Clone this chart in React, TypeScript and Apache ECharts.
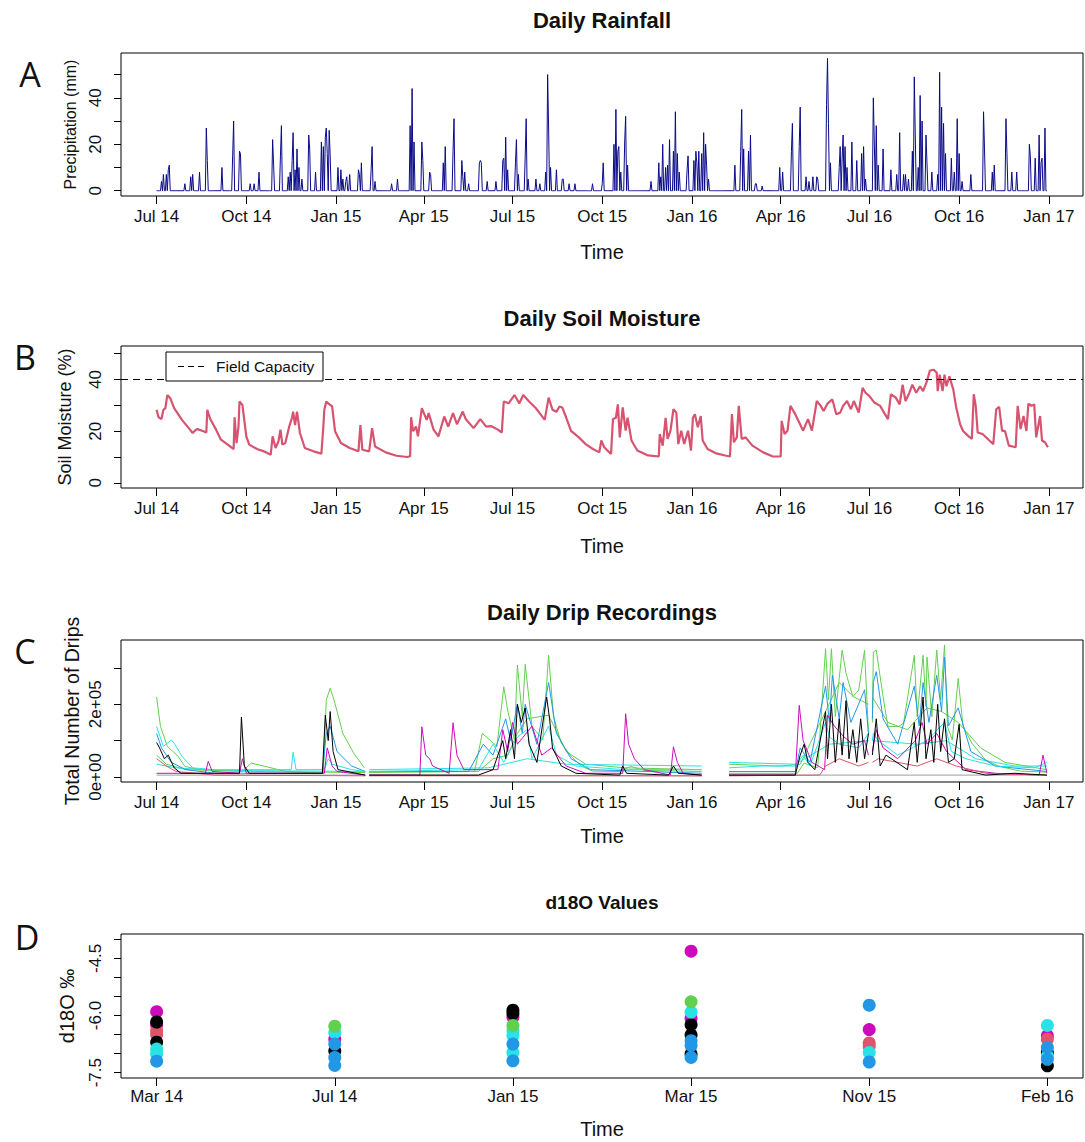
import React, { useEffect, useRef } from "react";
import * as echarts from "echarts";

const FONT = '"Liberation Sans", Arial, sans-serif';
const LETTER_FONT = '"Open Sans", "Noto Sans", sans-serif';

// ---------- time axis (days since 1 Jul 2014) ----------
const X_MIN = -36.5;
const X_MAX = 950;
const LAST_DAY = 913;
const TIME_TICK_DAYS = [0, 92, 184, 274, 365, 457, 549, 640, 731, 823, 915];
const TIME_TICK_LABELS = ["Jul 14", "Oct 14", "Jan 15", "Apr 15", "Jul 15", "Oct 15", "Jan 16", "Apr 16", "Jul 16", "Oct 16", "Jan 17"];

// ---------- A: daily rainfall (rain days only, mm) ----------
const RAIN_EVENTS: [number, number][] = [
  [5, 4], [7, 7], [10, 7], [12, 9], [13, 11], [29, 3], [35, 6], [37, 7], [44, 8], [51, 27], [52, 13], [67, 10],
  [78, 15], [79, 30], [85, 17], [86, 16], [96, 3], [100, 3], [105, 8], [119, 22], [120, 11], [127, 15], [128, 28],
  [135, 6], [137, 8], [139, 13], [140, 25], [142, 9], [144, 18], [146, 10], [149, 5], [156, 24], [157, 18], [163, 8],
  [169, 21], [171, 19], [173, 23], [174, 27], [175, 16], [177, 26], [178, 15], [186, 10], [189, 9], [191, 5], [194, 4],
  [195, 6], [198, 7], [207, 9], [208, 7], [210, 12], [220, 9], [221, 19], [224, 4], [241, 3], [247, 5], [260, 28],
  [262, 44], [264, 21], [272, 21], [273, 13], [280, 8], [281, 7],
  [294, 12], [296, 19], [304, 17], [305, 31], [313, 13], [314, 6], [316, 8], [320, 3], [331, 12], [332, 13], [333, 12],
  [339, 4], [348, 4], [355, 13], [356, 14], [358, 23], [360, 9], [368, 12], [369, 22], [371, 7], [378, 15], [379, 31],
  [381, 5], [389, 5], [393, 3], [399, 8], [401, 50], [402, 27], [404, 10], [410, 9], [416, 5], [417, 5], [423, 3],
  [429, 3], [447, 3], [457, 3], [458, 12], [469, 20], [471, 35], [473, 17], [474, 19], [476, 8], [480, 21], [481, 32],
  [483, 11], [507, 4], [515, 12], [517, 6], [519, 20], [522, 10], [524, 11], [526, 22], [530, 17], [532, 34], [534, 16],
  [536, 8], [544, 9], [545, 15], [551, 13], [553, 17], [554, 12], [556, 17], [559, 16], [561, 25], [563, 20], [564, 11],
  [566, 5], [593, 11], [599, 17], [600, 35], [602, 18], [607, 17], [609, 24], [614, 3],
  [615, 3], [621, 2], [639, 10], [642, 8], [651, 17], [652, 29], [659, 19], [660, 36], [666, 6], [669, 4], [673, 6],
  [677, 6], [678, 5], [687, 37], [688, 57], [689, 29], [691, 12], [700, 10], [701, 19], [703, 14], [704, 24], [706, 19],
  [708, 10], [713, 21], [718, 13], [723, 16], [725, 19], [727, 5], [735, 40], [736, 21], [738, 28], [740, 11], [745, 18],
  [753, 9], [759, 7], [762, 25], [766, 7], [768, 7], [771, 5], [775, 17], [777, 49], [778, 24], [781, 10], [783, 41],
  [785, 30], [789, 24], [790, 12], [795, 8], [801, 7], [803, 51], [805, 36], [807, 29], [809, 16], [815, 14], [818, 8],
  [821, 31], [823, 16], [826, 4], [835, 7], [848, 34], [849, 18], [857, 8], [859, 11], [871, 31], [872, 16], [877, 8],
  [882, 8], [895, 20], [896, 15], [901, 14], [905, 24], [907, 12], [908, 14], [911, 27],
];

// ---------- B: daily soil moisture (%) ----------
const SOIL: [number, number][] = [
  [0, 28.3], [2, 25.4], [5, 24.7], [7, 28.3], [9, 28.9], [11, 34], [14, 32.8], [18, 28.9], [26, 24.4], [33, 21.2],
  [37, 19.3], [40, 20.5], [42, 20.8], [48, 20], [51, 19.5], [52, 28.3], [55, 24.7], [61, 20.6], [66, 16.7], [73, 14.8],
  [79, 13.1], [80, 25.4], [82, 15.4], [84, 21.8], [85, 31.5], [88, 30.2], [92, 18], [95, 14.8], [103, 13.1], [110, 12.2],
  [117, 10.9], [119, 18], [122, 13.5], [125, 16.1], [127, 20.6], [129, 14.8], [132, 15.4], [136, 21.8], [139, 25.4],
  [140, 27.6], [142, 22.4], [144, 27.6], [147, 19.3], [152, 13.5], [161, 12.2], [169, 11.3], [171, 21.8], [172, 28.3],
  [174, 31.5], [176, 30.8], [180, 29.6], [183, 20], [189, 15.4], [198, 13.5], [207, 12.2], [209, 22.4], [211, 12.8],
  [218, 12.2], [221, 21.2], [224, 14.1], [235, 11.8], [246, 10.5], [257, 10], [260, 10.3], [261, 25.4], [263, 20],
  [266, 21.8], [268, 18], [272, 28.9], [277, 24.4], [279, 27], [284, 20.6], [289, 18], [295, 25.7], [299, 21.8],
  [304, 27], [308, 22.7], [314, 27.6], [317, 24.7], [325, 21.2], [332, 24.7], [338, 21.8], [343, 22], [350, 20.6],
  [354, 19.5], [356, 31.5], [361, 30.8], [367, 34], [372, 30.8], [376, 34], [382, 31.5], [389, 28.9], [394, 26.4],
  [398, 24.4], [402, 33], [406, 28.3], [410, 27.5], [413, 29.5], [416, 29.2], [420, 25.3], [425, 20.1], [433, 17.6],
  [440, 15], [447, 13.2], [454, 11.8], [456, 16.4], [459, 13.8], [466, 11.2], [468, 24.7], [471, 25.2], [473, 30.4],
  [475, 17.6], [478, 29.2], [481, 20.2], [483, 25.2], [487, 16.4], [493, 12.5], [504, 10.6], [515, 10.2], [516, 18.9],
  [519, 14.4], [522, 25.2], [524, 17], [527, 20.2], [530, 28.5], [533, 27.2], [535, 15], [538, 20.2], [541, 15],
  [545, 20.2], [548, 12.5], [550, 25.2], [552, 26.6], [555, 21.5], [558, 25.9], [560, 16.4], [565, 13.1], [574, 11.4],
  [583, 10.6], [588, 10.2], [590, 26.6], [592, 15.7], [595, 17.6], [597, 29.8], [600, 17], [604, 17.6], [611, 14.4],
  [622, 11.8], [632, 10.2], [640, 10.2], [641, 24], [644, 18.9], [647, 20.2], [650, 29.8], [654, 27.2], [659, 23.4],
  [663, 20.2], [668, 24.7], [672, 20.2], [677, 31.7], [681, 29.8], [684, 27.8], [688, 30.7], [693, 32.3], [697, 26.6],
  [701, 27.2], [704, 29.8], [708, 31.7], [712, 28.5], [715, 31.7], [720, 27.2], [724, 36.8], [727, 34.9], [731, 33.6],
  [736, 31.1], [742, 29.8], [745, 27.8], [750, 24.7], [753, 34.3], [758, 33], [762, 30.4], [765, 38], [768, 31.7],
  [772, 34.9], [775, 38], [779, 34.9], [783, 37.4], [786, 35.5], [790, 39.4], [793, 43.5], [797, 43.8], [800, 42.6],
  [801, 35.5], [803, 41.9], [806, 35.5], [808, 41.9], [810, 37.4], [813, 41.3], [817, 36.1], [820, 29.2], [824, 22.7],
  [827, 20.1], [833, 17.9], [836, 17], [838, 34.3], [840, 29.8], [842, 19.5], [847, 18.9], [854, 16.4], [858, 15],
  [861, 28.5], [864, 29.4], [867, 20.1], [870, 20.1], [874, 14.4], [881, 13.8], [883, 29.8], [886, 20.8], [889, 25.9],
  [892, 20.1], [894, 30.7], [897, 29.8], [900, 30.4], [902, 17.6], [906, 25.9], [908, 16.4], [911, 15.7], [914, 13.8],
];
const FIELD_CAPACITY = 40;

// ---------- C: daily drip counts (units of 1e5 drips), null = logger gap ----------
const DRIP_GRAY: [number, number | null][] = [
  [0, 0.05], [214, 0.05], [216, null], [218, 0.05], [559, 0.03], [572, null], [587, 0.05], [913, 0.05],
];
const DRIP_GREEN2: [number, number | null][] = [
  [0, 0.6], [10, 0.35], [30, 0.2], [100, 0.15], [214, 0.12], [216, null], [218, 0.12], [330, 0.15], [345, 0.5],
  [360, 0.6], [370, 1.2], [380, 1.6], [402, 1.7], [420, 0.7], [440, 0.35], [480, 0.25], [559, 0.2], [572, null],
  [587, 0.35], [640, 0.3], [660, 0.35], [686, 1.8], [700, 2.6], [715, 2.2], [730, 2.0], [732, null], [734, 2.2],
  [750, 1.5], [770, 1.3], [790, 1.9], [805, 1.8], [822, 1.5], [845, 0.8], [870, 0.4], [913, 0.2],
];
const DRIP_CYAN2: [number, number | null][] = [
  [0, 0.35], [20, 0.25], [60, 0.18], [214, 0.15], [216, null], [218, 0.2], [340, 0.25], [380, 0.5], [420, 0.35],
  [559, 0.3], [572, null], [587, 0.4], [655, 0.35], [690, 0.9], [730, 1.0], [732, null], [734, 1.0], [780, 0.9],
  [810, 1.0], [840, 0.5], [880, 0.3], [913, 0.3],
];
const DRIP_GREEN: [number, number | null][] = [
  [0, 2.2], [4, 1.39], [11, 0.84], [22, 0.57], [29, 0.29], [44, 0.2], [88, 0.15], [97, 0.38], [110, 0.3], [132, 0.15],
  [171, 0.1], [174, 2.12], [178, 2.44], [182, 2.12], [191, 1.2], [202, 0.66], [213, 0.25], [216, null], [218, 0.15],
  [326, 0.15], [334, 1.2], [349, 0.84], [356, 2.48], [360, 1.84], [367, 1.02], [370, 3.08], [375, 1.66], [378, 3.1],
  [385, 1.39], [396, 1.02], [402, 3.35], [407, 1.66], [415, 0.93], [425, 0.57], [436, 0.29], [447, 0.16], [475, 0.15],
  [486, 0.29], [500, 0.18], [559, 0.15], [572, null], [587, 0.1], [657, 0.1], [664, 0.38], [678, 0.25], [686, 3.53],
  [689, 2.12], [692, 3.53], [696, 1.66], [703, 3.49], [707, 2.85], [714, 2.21], [720, 2.39], [726, 3.49], [730, 1.2],
  [732, null], [734, 1.5], [735, 3.44], [738, 3.49], [745, 2.21], [750, 1.39], [761, 1.39], [766, 1.48], [777, 3.35],
  [780, 1.66], [786, 3.35], [789, 1.94], [790, 3.3], [795, 1.66], [800, 3.49], [804, 2.12], [808, 3.63], [811, 1.39],
  [816, 1.02], [822, 2.71], [827, 1.39], [836, 0.93], [850, 0.47], [864, 0.29], [886, 0.16], [913, 0.13],
];
const DRIP_BLUE: [number, number | null][] = [
  [0, 1.2], [5, 0.8], [15, 0.4], [30, 0.2], [60, 0.1], [170, 0.1], [174, 1.2], [178, 1.4], [185, 0.7], [200, 0.3],
  [214, 0.15], [216, null], [218, 0.15], [320, 0.15], [335, 0.9], [345, 0.6], [358, 1.6], [363, 1.0], [370, 2.0],
  [375, 1.2], [378, 2.0], [390, 0.9], [402, 2.6], [410, 1.2], [425, 0.5], [445, 0.2], [559, 0.1], [572, null],
  [587, 0.15], [655, 0.15], [660, 0.8], [670, 0.4], [686, 2.5], [690, 1.5], [693, 2.8], [700, 1.6], [704, 2.6],
  [712, 1.5], [726, 2.4], [730, 1.2], [732, null], [734, 1.6], [735, 2.6], [738, 2.9], [745, 1.6], [760, 0.9],
  [777, 2.5], [782, 1.4], [786, 2.6], [792, 1.5], [800, 2.8], [805, 1.8], [808, 3.3], [812, 1.4], [822, 1.9],
  [835, 0.7], [860, 0.3], [913, 0.15],
];
const DRIP_CYAN: [number, number | null][] = [
  [0, 1.39], [7, 0.84], [15, 1.02], [18, 0.93], [26, 0.57], [37, 0.25], [59, 0.2], [138, 0.2], [140, 0.68], [143, 0.2],
  [172, 0.2], [176, 0.5], [180, 0.35], [200, 0.2], [214, 0.15], [216, null], [218, 0.15], [330, 0.2], [345, 0.9],
  [356, 0.4], [370, 1.1], [380, 1.3], [385, 0.5], [402, 1.4], [410, 0.6], [430, 0.3], [480, 0.2], [559, 0.2],
  [572, null], [587, 0.25], [620, 0.3], [655, 0.3], [663, 0.6], [670, 0.3], [686, 1.5], [690, 1.1], [700, 0.9],
  [720, 0.8], [730, 1.2], [732, null], [734, 1.0], [735, 1.2], [740, 1.0], [760, 0.6], [790, 1.0], [808, 1.5],
  [815, 0.7], [830, 0.5], [860, 0.3], [900, 0.25], [913, 0.4],
];
const DRIP_MAGENTA: [number, number | null][] = [
  [0, 0.1], [50, 0.1], [53, 0.43], [57, 0.15], [85, 0.1], [88, 0.5], [92, 0.1], [172, 0.1], [175, 0.8], [180, 0.3],
  [185, 0.15], [214, 0.05], [216, null], [218, 0.05], [270, 0.05], [272, 1.38], [276, 0.6], [280, 0.5], [283, 0.3],
  [300, 0.1], [304, 1.49], [308, 0.6], [315, 0.2], [350, 0.2], [355, 1.3], [360, 0.7], [365, 1.5], [370, 0.9],
  [385, 1.4], [395, 0.6], [405, 0.8], [420, 0.3], [440, 0.1], [478, 0.1], [481, 1.74], [484, 0.9], [490, 0.5],
  [500, 0.2], [527, 0.05], [530, 0.83], [534, 0.4], [540, 0.1], [559, 0.05], [572, null], [587, 0.05], [655, 0.05],
  [659, 1.97], [663, 1.0], [672, 0.4], [685, 0.2], [688, 1.7], [695, 1.4], [705, 1.1], [714, 0.9], [726, 1.0],
  [730, 0.6], [732, null], [734, 0.7], [738, 1.3], [745, 0.8], [760, 0.5], [778, 1.0], [785, 1.5], [790, 0.9],
  [800, 1.2], [810, 0.7], [830, 0.2], [860, 0.1], [905, 0.05], [909, 0.6], [913, 0.1],
];
const DRIP_RED: [number, number | null][] = [
  [0, 0.5], [10, 0.3], [20, 0.15], [60, 0.05], [214, 0.03], [216, null], [218, 0.03], [559, 0.03], [572, null],
  [587, 0.03], [680, 0.05], [686, 0.3], [700, 0.5], [720, 0.3], [730, 0.4], [732, null], [734, 0.4], [740, 0.5],
  [760, 0.4], [780, 0.3], [800, 0.5], [820, 0.3], [850, 0.1], [913, 0.05],
];
const DRIP_BLACK: [number, number | null][] = [
  [0, 0.95], [3, 0.8], [8, 0.5], [12, 0.6], [18, 0.25], [25, 0.1], [85, 0.1], [87, 1.65], [90, 0.3], [95, 0.1],
  [170, 0.1], [173, 1.7], [176, 1.0], [178, 1.8], [181, 0.7], [186, 0.2], [214, 0.05], [216, null], [218, 0.05],
  [330, 0.05], [345, 0.2], [355, 1.0], [358, 0.5], [363, 1.3], [367, 0.5], [370, 2.0], [374, 1.5], [378, 1.9],
  [382, 0.9], [390, 0.4], [400, 2.2], [403, 1.6], [406, 0.8], [415, 0.3], [430, 0.1], [475, 0.05], [478, 0.3],
  [482, 0.1], [525, 0.05], [530, 0.3], [535, 0.1], [559, 0.05], [572, null], [587, 0.05], [655, 0.05], [660, 0.6],
  [664, 0.9], [668, 0.4], [675, 0.2], [686, 1.8], [688, 0.5], [692, 2.0], [696, 0.4], [700, 1.6], [703, 0.6],
  [707, 2.1], [710, 0.5], [714, 1.3], [718, 0.4], [722, 1.6], [726, 0.5], [730, 1.2], [732, null], [734, 0.6],
  [738, 1.6], [742, 0.3], [748, 0.6], [770, 0.2], [777, 1.5], [780, 0.4], [786, 2.2], [789, 0.5], [794, 1.3],
  [797, 0.4], [801, 2.0], [804, 0.7], [808, 1.6], [812, 0.4], [818, 0.5], [823, 1.45], [826, 0.2], [850, 0.05],
  [880, 0.1], [913, 0.05],
];

// ---------- D: d18O samples (date index 1..6, per mil) ----------
const D18O_DATES = ["Mar 14", "Jul 14", "Jan 15", "Mar 15", "Nov 15", "Feb 16"];
const D18O_BLACK: [number, number][] = [[1, -6.17], [1, -6.7], [2, -6.93], [3, -5.86], [3, -5.95], [4, -6.24], [4, -6.51], [4, -7.01], [6, -6.97], [6, -7.32]];
const D18O_RED: [number, number][] = [[1, -6.5], [1, -6.4], [5, -6.72], [5, -6.81], [6, -6.62]];
const D18O_GREEN: [number, number][] = [[2, -6.28], [3, -6.26], [4, -5.64]];
const D18O_BLUE: [number, number][] = [[1, -7.2], [2, -6.75], [2, -7.1], [2, -7.31], [3, -6.75], [3, -7.19], [4, -6.66], [4, -6.79], [4, -7.1], [5, -5.73], [5, -7.22], [6, -6.84], [6, -7.15]];
const D18O_CYAN: [number, number][] = [[1, -6.88], [1, -7.01], [2, -6.45], [3, -6.39], [3, -6.53], [3, -6.97], [4, -5.91], [5, -6.97], [6, -6.26], [6, -7.06]];
const D18O_MAGENTA: [number, number][] = [[1, -5.9], [1, -6.25], [2, -6.62], [3, -6.04], [4, -4.31], [4, -6.08], [5, -6.37], [6, -6.53]];

// R 4 palette
const C_BLACK = "#000000";
const C_RED = "#DF536B";
const C_GREEN = "#61D04F";
const C_BLUE = "#2297E6";
const C_CYAN = "#28E2E5";
const C_MAGENTA = "#CD0BBC";
const C_GRAY = "#9E9E9E";

// layout
const GRID_LEFT = 121;
const GRID_RIGHT = 2;
const GRID_TOPS = [53, 346, 640, 934];
const GRID_HEIGHTS = [143, 142, 142, 144];
const PANEL_TITLES = ["Daily Rainfall", "Daily Soil Moisture", "Daily Drip Recordings", "d18O Values"];
const TITLE_Y = [20, 318, 612, 902];
const TITLE_SIZE = [22, 22, 22, 19];
const TIME_GAP = [56, 58, 54, 51];
const Y_NAMES = ["Precipitation (mm)", "Soil Moisture (%)", "Total Number of Drips", "d18O ‰"];
const Y_NAME_X = [70, 65, 72, 67];
const Y_NAME_SIZE = [16, 18, 19.5, 20];
const LETTERS = ["A", "B", "C", "D"];
const LETTER_POS: [number, number][] = [[30, 74], [25, 357], [25, 651], [27, 937]];

export default function App() {
  const ref = useRef<HTMLDivElement>(null);

  useEffect(() => {
    if (!ref.current) return;
    const chart = echarts.init(ref.current, null, { renderer: "svg" });

    const rainMap = new Map<number, number>(RAIN_EVENTS.map(([d, v]) => [d, v]));
    const rainDaily: [number, number][] = [];
    for (let d = 0; d <= LAST_DAY; d++) rainDaily.push([d, rainMap.get(d) ?? 0]);

    const labelStyle = { color: "#111", fontSize: 17, fontFamily: FONT };
    const tickStyle = { color: "#000", width: 1 };

    const timeX = (gridIndex: number) => ({
      type: "value",
      gridIndex,
      min: X_MIN,
      max: X_MAX,
      axisLine: { show: false, onZero: false },
      splitLine: { show: false },
      axisTick: { show: true, length: 8, customValues: TIME_TICK_DAYS, lineStyle: tickStyle },
      axisLabel: {
        ...labelStyle,
        margin: 12,
        customValues: TIME_TICK_DAYS,
        formatter: (v: number) => {
          const i = TIME_TICK_DAYS.indexOf(Math.round(v));
          return i >= 0 ? TIME_TICK_LABELS[i] : "";
        },
      },
    });

    const yAx = (gridIndex: number, min: number, max: number, ticks: number[], labels: number[], fmt?: (v: number) => string) => ({
      type: "value",
      gridIndex,
      min,
      max,
      axisLine: { show: false, onZero: false },
      splitLine: { show: false },
      axisTick: { show: true, length: 7, customValues: ticks, lineStyle: tickStyle },
      axisLabel: {
        ...labelStyle,
        rotate: 90,
        margin: 17,
        customValues: labels,
        formatter: fmt ? fmt : (v: number) => String(v),
      },
    });

    const dripLine = (data: [number, number | null][], color: string) => ({
      type: "line",
      xAxisIndex: 2,
      yAxisIndex: 2,
      data,
      symbol: "none",
      connectNulls: false,
      lineStyle: { color, width: 1 },
      itemStyle: { color },
      silent: true,
    });

    const dots = (data: [number, number][], color: string) => ({
      type: "scatter",
      xAxisIndex: 3,
      yAxisIndex: 3,
      data,
      symbol: "circle",
      symbolSize: 13,
      itemStyle: { color, opacity: 1 },
      silent: true,
    });

    const centerX = GRID_LEFT + (1085 - GRID_LEFT - GRID_RIGHT) / 2;
    const graphics: any[] = [];
    PANEL_TITLES.forEach((t, i) => {
      graphics.push({
        type: "text",
        x: centerX,
        y: TITLE_Y[i],
        z: 100,
        style: { text: t, fontSize: TITLE_SIZE[i], fontWeight: "bold", fontFamily: FONT, fill: "#111", textAlign: "center", align: "center", textVerticalAlign: "middle", verticalAlign: "middle" },
      });
      const bottom = GRID_TOPS[i] + GRID_HEIGHTS[i];
      graphics.push({
        type: "text",
        x: centerX,
        y: bottom + TIME_GAP[i],
        z: 100,
        style: { text: "Time", fontSize: 20, fontFamily: FONT, fill: "#111", textAlign: "center", align: "center", textVerticalAlign: "middle", verticalAlign: "middle" },
      });
      graphics.push({
        type: "text",
        x: Y_NAME_X[i],
        y: GRID_TOPS[i] + GRID_HEIGHTS[i] / 2,
        rotation: Math.PI / 2,
        z: 100,
        style: { text: Y_NAMES[i], fontSize: Y_NAME_SIZE[i], fontFamily: FONT, fill: "#111", textAlign: "center", align: "center", textVerticalAlign: "middle", verticalAlign: "middle" },
      });
      graphics.push({
        type: "text",
        x: LETTER_POS[i][0],
        y: LETTER_POS[i][1],
        z: 100,
        style: { text: LETTERS[i], fontSize: 34, fontFamily: LETTER_FONT, fill: "#111", textAlign: "center", align: "center", textVerticalAlign: "middle", verticalAlign: "middle" },
      });
    });
    // legend of panel B
    graphics.push({
      type: "group",
      z: 100,
      children: [
        { type: "rect", shape: { x: 166, y: 352, width: 157, height: 29 }, style: { fill: "#fff", stroke: "#000", lineWidth: 1 }, z: 100 },
        { type: "line", shape: { x1: 178, y1: 366.5, x2: 206, y2: 366.5 }, style: { stroke: "#000", lineWidth: 1, lineDash: [6, 4] }, z: 101 },
        { type: "text", x: 216, y: 366.5, z: 101, style: { text: "Field Capacity", fontSize: 15.5, fontFamily: FONT, fill: "#111", textAlign: "left", align: "left", textVerticalAlign: "middle", verticalAlign: "middle" } },
      ],
    });

    const option: any = {
      animation: false,
      backgroundColor: "#fff",
      grid: GRID_TOPS.map((top, i) => ({
        left: GRID_LEFT,
        right: GRID_RIGHT,
        top,
        height: GRID_HEIGHTS[i],
        show: true,
        borderColor: "#000",
        borderWidth: 1,
        backgroundColor: "transparent",
        containLabel: false,
      })),
      xAxis: [
        timeX(0),
        timeX(1),
        timeX(2),
        {
          type: "value",
          gridIndex: 3,
          min: 0.8,
          max: 6.2,
          axisLine: { show: false, onZero: false },
          splitLine: { show: false },
          axisTick: { show: true, length: 8, customValues: [1, 2, 3, 4, 5, 6], lineStyle: tickStyle },
          axisLabel: {
            ...labelStyle,
            margin: 10,
            customValues: [1, 2, 3, 4, 5, 6],
            formatter: (v: number) => D18O_DATES[Math.round(v) - 1] ?? "",
          },
        },
      ],
      yAxis: [
        yAx(0, -2.28, 59.3, [0, 10, 20, 30, 40, 50], [0, 20, 40]),
        yAx(1, -2, 53, [0, 10, 20, 30, 40, 50], [0, 20, 40]),
        yAx(2, -0.14, 3.77, [0, 1, 2, 3], [0, 2], (v: number) => (v === 0 ? "0e+00" : v === 2 ? "2e+05" : "")),
        yAx(3, -7.64, -3.86, [-4, -4.5, -5, -5.5, -6, -6.5, -7, -7.5], [-4.5, -6, -7.5], (v: number) => v.toFixed(1)),
      ],
      series: [
        {
          type: "line",
          xAxisIndex: 0,
          yAxisIndex: 0,
          data: rainDaily,
          symbol: "none",
          lineStyle: { color: "#0A0A8A", width: 1 },
          itemStyle: { color: "#0A0A8A" },
          silent: true,
        },
        {
          type: "line",
          xAxisIndex: 1,
          yAxisIndex: 1,
          data: SOIL,
          symbol: "none",
          lineStyle: { color: "#D65470", width: 2.2 },
          itemStyle: { color: "#D65470" },
          silent: true,
          markLine: {
            silent: true,
            symbol: ["none", "none"],
            label: { show: false },
            lineStyle: { color: "#000", width: 1, type: [7, 5] },
            data: [{ yAxis: FIELD_CAPACITY }],
          },
        },
        dripLine(DRIP_GRAY, C_GRAY),
        dripLine(DRIP_GREEN2, C_GREEN),
        dripLine(DRIP_CYAN2, C_CYAN),
        dripLine(DRIP_GREEN, C_GREEN),
        dripLine(DRIP_BLUE, C_BLUE),
        dripLine(DRIP_CYAN, C_CYAN),
        dripLine(DRIP_MAGENTA, C_MAGENTA),
        dripLine(DRIP_RED, C_RED),
        dripLine(DRIP_BLACK, C_BLACK),
        dots(D18O_MAGENTA, C_MAGENTA),
        dots(D18O_RED, C_RED),
        dots(D18O_BLACK, C_BLACK),
        dots(D18O_CYAN, C_CYAN),
        dots(D18O_GREEN, C_GREEN),
        dots(D18O_BLUE, C_BLUE),
      ],
      graphic: graphics,
    };

    chart.setOption(option);
    return () => chart.dispose();
  }, []);

  return (
    <div
      ref={ref}
      style={{ position: "absolute", left: 0, top: 0, width: 1085, height: 1142, background: "#fff" }}
    />
  );
}
